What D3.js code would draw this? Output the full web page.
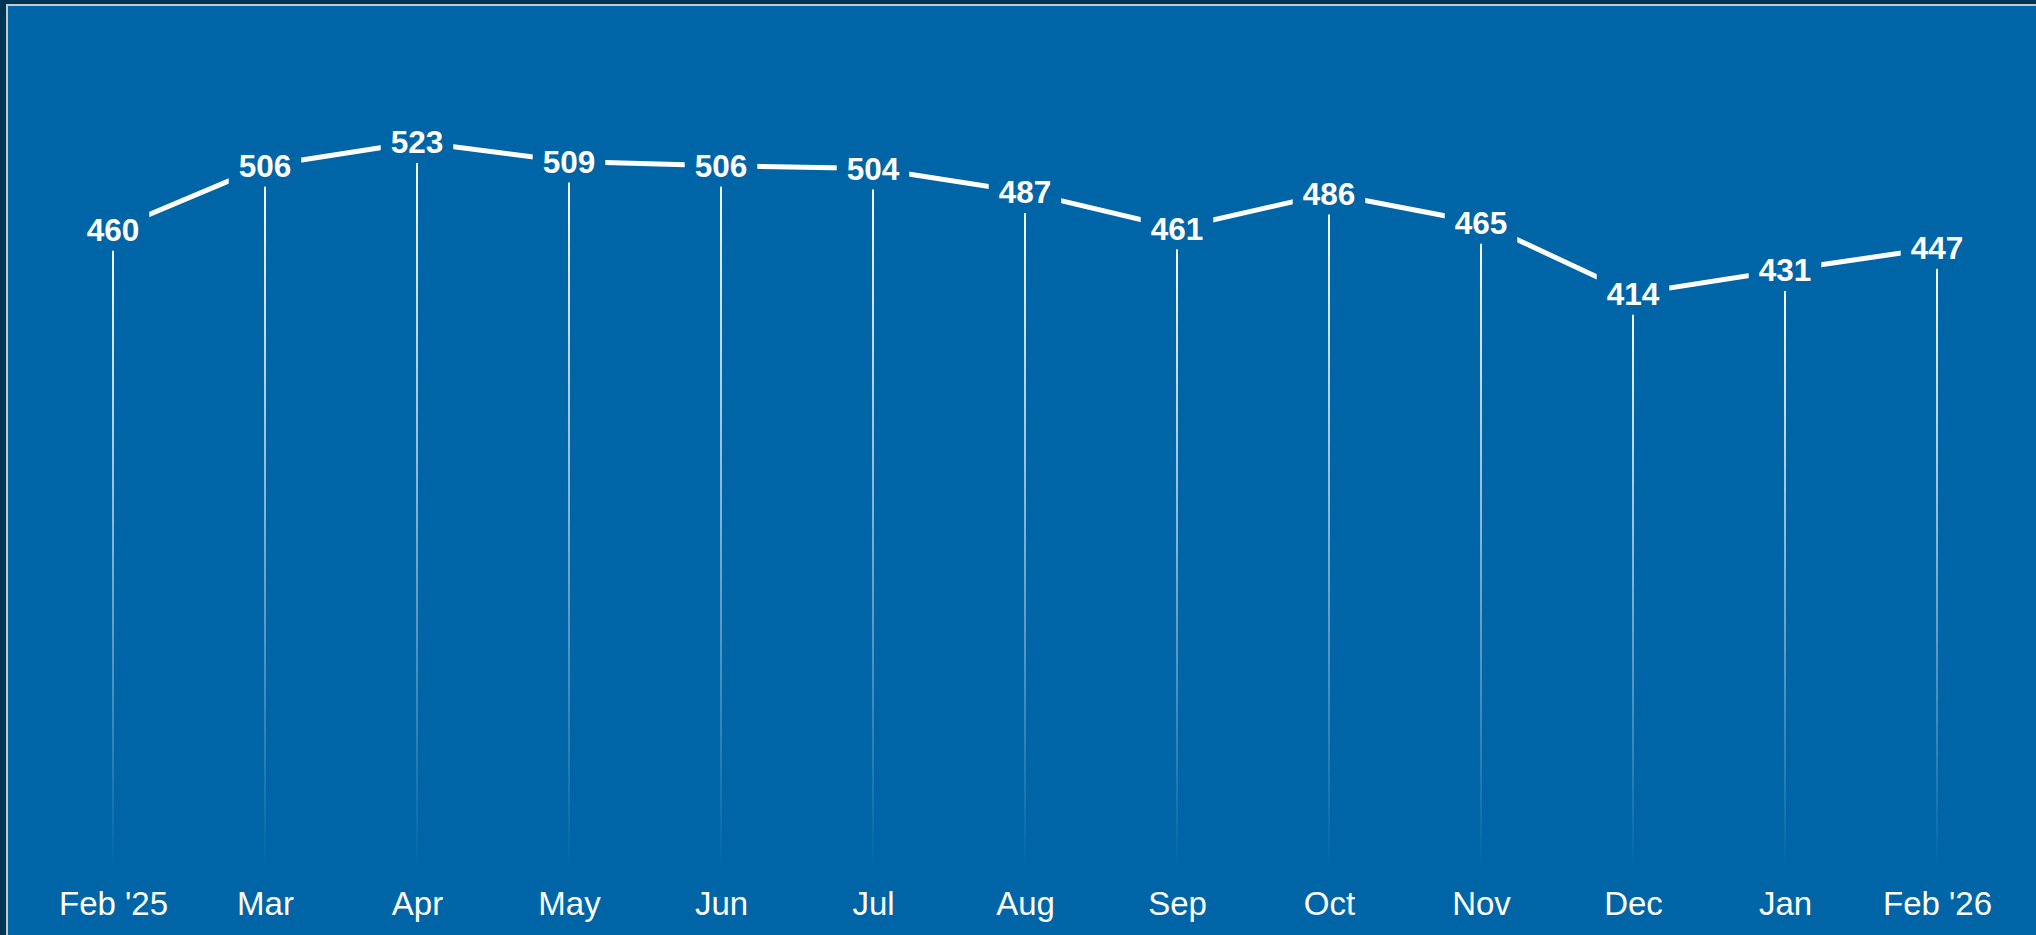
<!DOCTYPE html>
<html>
<head>
<meta charset="utf-8">
<script src="https://cdn.jsdelivr.net/npm/d3@7"></script>
<style>
  html, body { margin: 0; padding: 0; background: #003453; }
  svg { display: block; }
</style>
</head>
<body>
<svg id="chart" width="2036" height="935"></svg>
<script>
const months = ["Feb '25","Mar","Apr","May","Jun","Jul","Aug","Sep","Oct","Nov","Dec","Jan","Feb '26"];
const values = [460,506,523,509,506,504,487,461,486,465,414,431,447];

const W = 2036, H = 935;
const panelBg = "#0065a6";
const svg = d3.select("#chart");

svg.append("rect").attr("x", 0).attr("y", 0).attr("width", W).attr("height", H).attr("fill", "#003453");
svg.append("rect").attr("x", 7).attr("y", 5).attr("width", W).attr("height", H)
  .attr("fill", panelBg).attr("stroke", "#c4ccd3").attr("stroke-width", 2);

const x = d3.scalePoint().domain(months).range([113, 1937]);
const y = d3.scaleLinear().domain([0, 523]).range([870, 142]);

const defs = svg.append("defs");
const grad = defs.append("linearGradient").attr("id", "dropFade")
  .attr("x1", 0).attr("y1", 0).attr("x2", 0).attr("y2", 1);
grad.append("stop").attr("offset", "0%").attr("stop-color", "#fff").attr("stop-opacity", 1);
grad.append("stop").attr("offset", "100%").attr("stop-color", "#fff").attr("stop-opacity", 0);

const data = months.map((m, i) => ({ m, v: values[i] }));
const fs = 31.5;

// drop lines
svg.append("g").selectAll("rect").data(data).join("rect")
  .attr("x", d => x(d.m) - 1)
  .attr("y", d => y(d.v))
  .attr("width", 2)
  .attr("height", d => y(0) - y(d.v))
  .attr("fill", "url(#dropFade)");

// line
const line = d3.line().x(d => x(d.m)).y(d => y(d.v));
svg.append("path").datum(data)
  .attr("d", line)
  .attr("fill", "none")
  .attr("stroke", "#fff")
  .attr("stroke-width", 5);

// labels with background
const lg = svg.append("g").selectAll("g").data(data).join("g");
lg.each(function(d) {
  const g = d3.select(this);
  const t = g.append("text")
    .attr("x", x(d.m))
    .attr("y", y(d.v) + fs * 0.358)
    .attr("text-anchor", "middle")
    .attr("font-family", "'Liberation Sans', Arial, sans-serif")
    .attr("font-weight", "bold")
    .attr("font-size", fs)
    .attr("fill", "#fff")
    .text(d.v);
  const w = t.node().getComputedTextLength();
  g.insert("rect", "text")
    .attr("x", x(d.m) - w / 2 - 10)
    .attr("y", y(d.v) - 21)
    .attr("width", w + 20)
    .attr("height", 42)
    .attr("fill", panelBg);
});

// x axis labels
const xAxis = d3.axisBottom(x).tickSize(0).tickPadding(0);
const ax = svg.append("g").attr("transform", "translate(0,915)").call(xAxis);
ax.select(".domain").remove();
ax.selectAll("text")
  .attr("y", 0).attr("dy", 0)
  .attr("fill", "#fff")
  .attr("font-family", "'Liberation Sans', Arial, sans-serif")
  .attr("font-size", 33);
</script>
</body>
</html>
